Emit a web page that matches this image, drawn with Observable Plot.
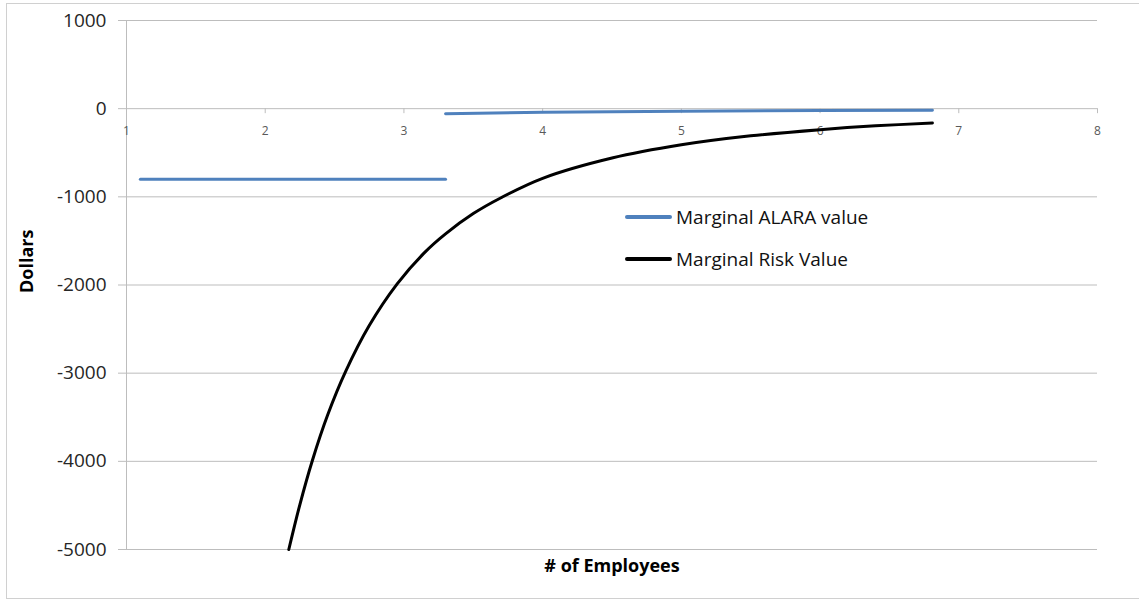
<!DOCTYPE html>
<html>
<head>
<meta charset="utf-8">
<script src="https://cdn.jsdelivr.net/npm/d3@7"></script>
<script src="https://cdn.jsdelivr.net/npm/@observablehq/plot@0.6"></script>
<style>
  html, body { margin: 0; padding: 0; background: #fff; }
  #wrap { position: relative; width: 1139px; height: 602px; overflow: hidden; font-family: "Open Sans", sans-serif; }
  #border { position: absolute; left: 6px; top: 3px; width: 1150px; height: 596px; border: 1px solid #d0d0d0; box-sizing: border-box; }
  #chart { position: absolute; left: 0; top: 0; }
  .leg { position: absolute; display: flex; align-items: center; font-size: 19px; color: #111; }
  .leg .sw { width: 47px; height: 4px; margin-right: 4px; border-radius: 2px; }
</style>
</head>
<body>
<div id="wrap">
  <div id="border"></div>
  <div id="chart"></div>
  <div class="leg" style="left:625px; top:204px;"><div class="sw" style="background:#4f81bd"></div><span>Marginal ALARA value</span></div>
  <div class="leg" style="left:625px; top:246px;"><div class="sw" style="background:#000"></div><span>Marginal Risk Value</span></div>
</div>
<script>
// Tick values
const xTicks = [1, 2, 3, 4, 5, 6, 7, 8];
const yTicks = [1000, 0, -1000, -2000, -3000, -4000, -5000];

// Marginal ALARA value (two separate segments)
const alaraSeg = ["a", "a", "b", "b", "b", "b", "b"];
const alaraX = [1.1, 3.3, 3.3, 4.0, 5.0, 6.0, 6.81];
const alaraY = [-800, -800, -57, -42, -30, -21, -17];

// Marginal Risk Value
const riskX = [2.17, 2.25, 2.34, 2.45, 2.58, 2.75, 2.95, 3.15, 3.3, 3.5, 3.7, 4.0, 4.5, 5.0, 5.5, 6.0, 6.4, 6.81];
const riskY = [-5000, -4490, -3990, -3475, -2980, -2460, -1990, -1630, -1420, -1190, -1010, -790, -560, -410, -308, -238, -195, -163];

const alara = alaraX.map((x, i) => ({x, y: alaraY[i], seg: alaraSeg[i]}));
const risk = riskX.map((x, i) => ({x, y: riskY[i]}));

const grid = "#bdbdbd";

const chart = Plot.plot({
  width: 1139,
  height: 602,
  marginLeft: 126,
  marginRight: 42,
  marginTop: 20,
  marginBottom: 53,
  style: {background: "transparent", fontFamily: "'Open Sans', sans-serif"},
  x: {domain: [1, 8], axis: null},
  y: {domain: [-5000, 1000], axis: null},
  marks: [
    Plot.ruleY(yTicks, {stroke: grid, strokeWidth: 1, insetLeft: -8}),
    Plot.ruleX([xTicks[0]], {y1: yTicks[0], y2: yTicks[yTicks.length - 1], stroke: grid}),
    Plot.ruleX(xTicks.slice(1), {y1: 0, y2: 0, insetBottom: -5, stroke: grid}),
    Plot.text(yTicks, {y: d => d, frameAnchor: "left", textAnchor: "end", dx: -20, text: d => String(d), fontSize: 19, fill: "#262626"}),
    Plot.text(xTicks, {x: d => d, y: 0, dy: 22, text: d => String(d), fontSize: 12, fill: "#595959"}),
    Plot.line(alara, {x: "x", y: "y", z: "seg", stroke: "#4f81bd", strokeWidth: 3}),
    Plot.line(risk, {x: "x", y: "y", stroke: "#000", strokeWidth: 3, curve: "catmull-rom"}),
    Plot.text(["# of Employees"], {frameAnchor: "bottom", dy: 22, text: d => d, fontSize: 18, fontWeight: "bold", fill: "#000"}),
    Plot.text(["Dollars"], {frameAnchor: "left", dx: -99, dy: 8, rotate: -90, text: d => d, fontSize: 18, fontWeight: "bold", fill: "#000"})
  ]
});
document.getElementById("chart").appendChild(chart);
</script>
</body>
</html>
